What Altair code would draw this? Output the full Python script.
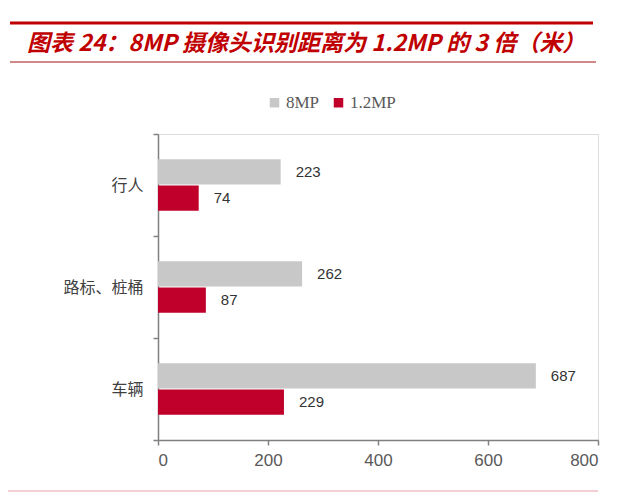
import altair as alt
import pandas as pd

categories = ["行人", "路标、桩桶", "车辆"]
series = ["8MP", "1.2MP"]
values_8mp = [223, 262, 687]
values_12mp = [74, 87, 229]
x_ticks = [0, 200, 400, 600, 800]
title_text = "图表 24：8MP 摄像头识别距离为 1.2MP 的 3 倍（米）"

rows = []
for c, a, b in zip(categories, values_8mp, values_12mp):
    rows.append({"cat": c, "series": series[0], "value": a})
    rows.append({"cat": c, "series": series[1], "value": b})
df = pd.DataFrame(rows)

color_scale = alt.Scale(domain=series, range=["#C8C8C8", "#C0002B"])

y_enc = alt.Y("cat:N", sort=categories,
              scale=alt.Scale(paddingInner=0, paddingOuter=0),
              axis=alt.Axis(title=None, tickBand="extent", labelFont="Noto Sans CJK SC",
                            labelFontSize=16, labelColor="#404040", labelPadding=10,
                            tickSize=5, tickColor="#808080", domainColor="#808080",
                            domainWidth=1.5, tickWidth=1.5))
yoff = alt.YOffset("series:N", sort=series,
                   scale=alt.Scale(domain=series, paddingInner=0.04, paddingOuter=0.96))
x_enc = alt.X("value:Q", scale=alt.Scale(domain=[0, 800], nice=False),
              axis=alt.Axis(title=None, values=x_ticks, grid=False, labelFont="Liberation Sans",
                            labelFontSize=17, labelColor="#595959", labelPadding=7,
                            tickSize=5, tickColor="#808080", domainColor="#808080",
                            domainWidth=1.5, tickWidth=1.5))

bars = alt.Chart(df).mark_bar().encode(
    x=x_enc, y=y_enc, yOffset=yoff,
    color=alt.Color("series:N", scale=color_scale, sort=series,
                    legend=alt.Legend(title=None, orient="none", direction="horizontal",
                                      legendX=108, legendY=-40, symbolType="square",
                                      symbolSize=90, symbolStrokeWidth=0,
                                      labelFont="Liberation Serif", labelFontSize=17,
                                      labelColor="#595959", columnPadding=10, labelOffset=3)),
)

labels = alt.Chart(df).mark_text(align="left", baseline="middle", dx=15,
                                 font="Liberation Sans", fontSize=15, color="#333333").encode(
    x=alt.X("value:Q"), y=alt.Y("cat:N", sort=categories), yOffset=yoff,
    text=alt.Text("value:Q"),
)

one = pd.DataFrame({"a": [0]})
top_rule = alt.Chart(one).mark_rule(color="#C00000", strokeWidth=3).encode(
    x=alt.value(-148), x2=alt.value(435), y=alt.value(-111))
thin_rule = alt.Chart(one).mark_rule(color="#A01010", strokeWidth=1).encode(
    x=alt.value(-148), x2=alt.value(438), y=alt.value(-72))
bottom_rule = alt.Chart(one).mark_rule(color="#E8A0A8", strokeWidth=1.2).encode(
    x=alt.value(-150), x2=alt.value(440), y=alt.value(357))
title = alt.Chart(one).mark_text(align="left", baseline="middle", font="Noto Sans CJK SC",
                                 fontSize=23, fontWeight="bold", fontStyle="italic",
                                 color="#C00000").encode(
    x=alt.value(-131), y=alt.value(-90), text=alt.value(title_text))

chart = alt.layer(bars, labels, top_rule, thin_rule, bottom_rule, title).properties(
    width=440, height=306,
    autosize=alt.AutoSizeParams(type="none"),
    padding={"left": 150, "top": 126, "right": 34, "bottom": 53},
).configure_view(stroke=None).configure(background="white")

chart.save("out.html", embed_options={"renderer": "svg", "actions": False})
